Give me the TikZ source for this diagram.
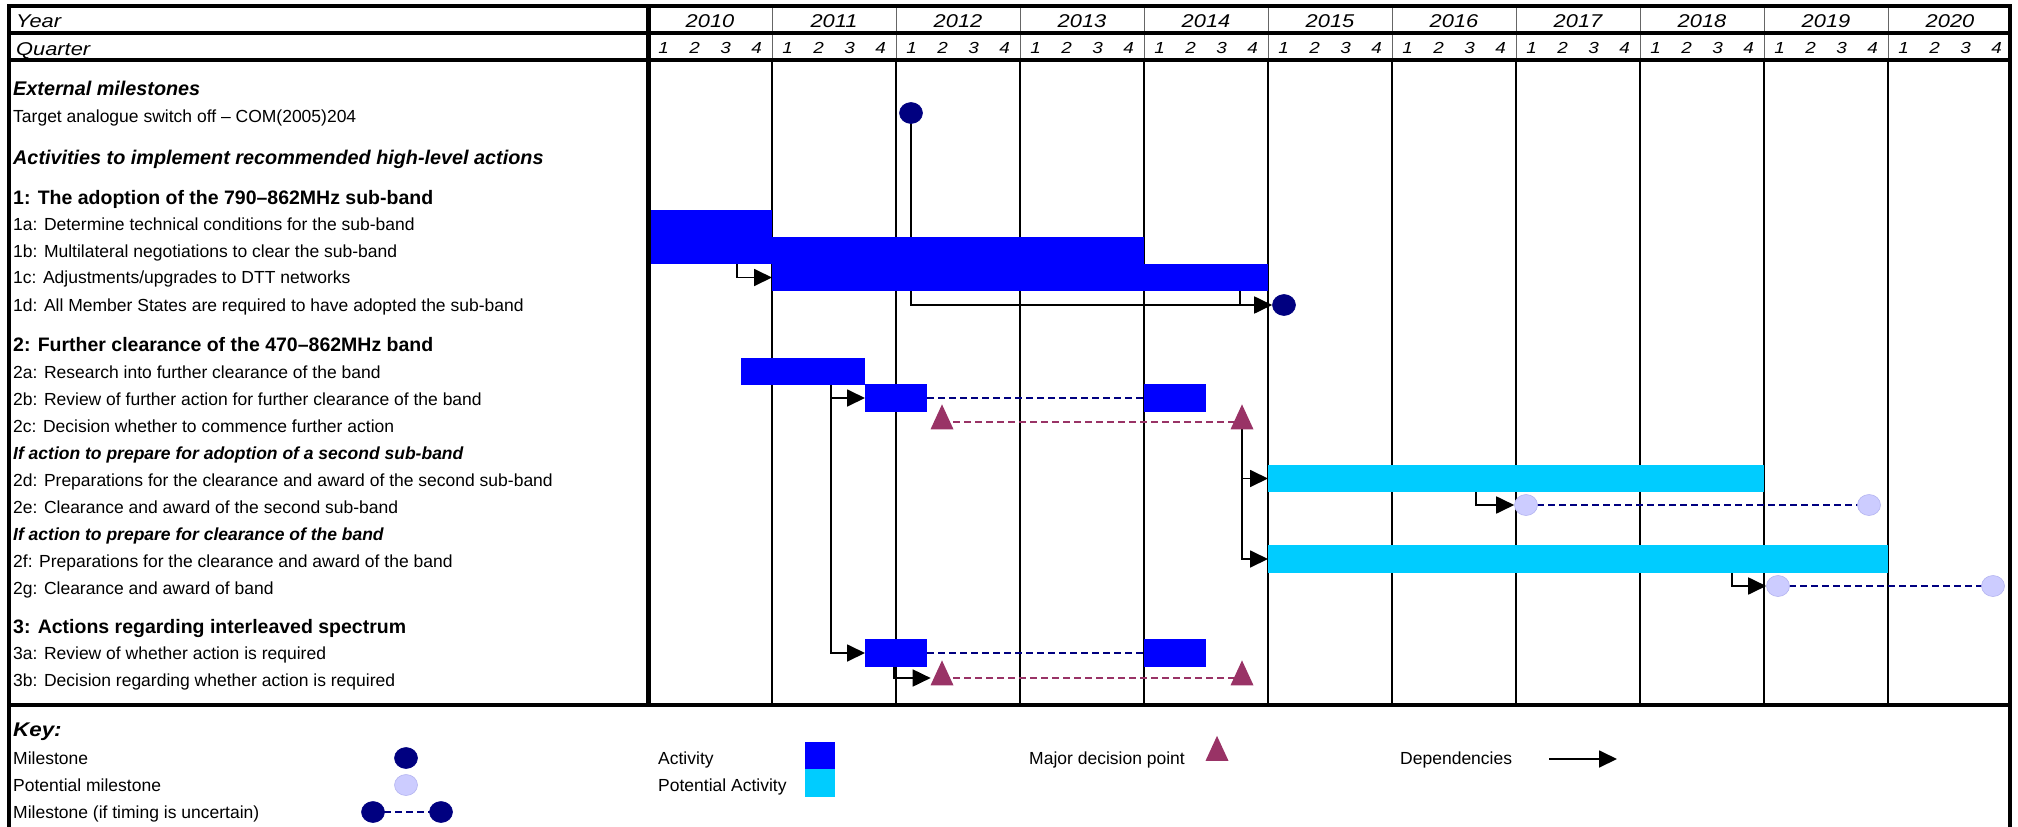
\documentclass[tikz,border=0pt]{standalone}
\usepackage{fontspec}
\setmainfont{Liberation Sans}
\newfontfamily\hdrfont[FakeStretch=1.18]{Liberation Sans}
\newfontfamily\keyfont[FakeStretch=1.13]{Liberation Sans}
\usetikzlibrary{arrows.meta,shapes.geometric}
\pgfdeclarelayer{gridlayer}
\pgfdeclarelayer{connlayer}
\pgfsetlayers{gridlayer,connlayer,main}
\definecolor{actblue}{HTML}{0000FF}
\definecolor{potcyan}{HTML}{00CCFF}
\definecolor{msnavy}{HTML}{000080}
\definecolor{potms}{HTML}{CCCCFF}
\definecolor{potmsedge}{HTML}{B4B4F0}
\definecolor{plum}{HTML}{993366}
\newcommand{\ganttbar}[6]{%
  \node[#2, minimum width={(#4)-(#3)}, minimum height={(#6)-(#5)}] (#1) at ({((#3)+(#4))/2},{((#5)+(#6))/2}) {};}
\begin{document}
\begin{tikzpicture}[x=1pt,y=-1pt,
  lbl/.style={anchor=west, inner sep=0pt, text height=12.5pt, text depth=0pt, font=\fontsize{17.5}{20}\selectfont},
  sec/.style={anchor=west, inner sep=0pt, text height=14pt, text depth=0pt, font=\fontsize{19.5}{23}\selectfont\bfseries},
  hdr/.style={anchor=west, inner sep=0pt, text height=14pt, text depth=0pt, font=\fontsize{19.8}{24}\selectfont\bfseries\itshape},
  sub/.style={anchor=west, inner sep=0pt, text height=12.5pt, text depth=0pt, font=\fontsize{17.5}{20}\selectfont\bfseries\itshape},
  hlbl/.style={anchor=west, inner sep=0pt, text height=13pt, text depth=0pt, font=\hdrfont\fontsize{18.5}{21}\selectfont\itshape},
  yrlbl/.style={inner sep=0pt, text height=13.2pt, text depth=0pt, font=\hdrfont\fontsize{18.5}{22}\selectfont\itshape},
  qlbl/.style={inner sep=0pt, text height=11.5pt, text depth=0pt, font=\hdrfont\fontsize{16}{19}\selectfont\itshape},
  act/.style={fill=actblue, inner sep=0pt, outer sep=0pt},
  pact/.style={fill=potcyan, inner sep=0pt, outer sep=0pt},
  ms/.style={ellipse, fill=msnavy, draw=msnavy, line width=0.6pt, minimum width=23pt, minimum height=21pt, inner sep=0pt},
  pms/.style={ellipse, fill=potms, draw=potmsedge, line width=0.6pt, minimum width=23pt, minimum height=21pt, inner sep=0pt},
  dec/.style={isosceles triangle, shape border rotate=90, isosceles triangle stretches, fill=plum, minimum width=23pt, minimum height=25pt, inner sep=0pt},
  dep/.style={line width=1.8pt, -{Triangle[length=18pt,width=17pt]}},
  depline/.style={line width=1.8pt},
  dashms/.style={msnavy, line width=2pt, dash pattern=on 7pt off 4pt},
  dashdec/.style={plum, line width=2pt, dash pattern=on 7pt off 4pt},
  frame/.style={line width=4pt, line join=miter},
  hdrgrid/.style={line width=0.8pt, black!60},
  bodygrid/.style={line width=1.3pt, black}
]
\useasboundingbox (0,0) rectangle (2018,827);

% ---------------- grid ----------------
\begin{pgfonlayer}{gridlayer}
\foreach \i in {1,...,10} {
  \draw[hdrgrid] ({648+124*\i},6) -- ({648+124*\i},60);
  \draw[bodygrid] ({648+124*\i},60) -- ({648+124*\i},705);
}
\end{pgfonlayer}

% ---------------- header ----------------
\node[hlbl] (hyear) at (16,21) {Year};
\node[hlbl] (hquarter) at (16,48.5) {Quarter};
\foreach \i in {0,...,10} {
  \pgfmathtruncatemacro{\yr}{2010+\i}
  \node[yrlbl] (y\yr) at ({648+124*\i+62},20.5) {\yr};
  \foreach \q in {1,...,4} {
    \node[qlbl] (q\yr-\q) at ({648+124*\i+31*\q-15.5},48) {\q};
  }
}

% ---------------- row labels ----------------
\node[hdr] (lext) at (13,88) {External milestones};
\node[lbl] (ltarget) at (13,116) {Target analogue switch off – COM(2005)204};
\node[hdr] (lact) at (13,157) {Activities to implement recommended high-level actions};
\node[sec] (ls1) at (13,197) {1: The adoption of the 790–862MHz sub-band};
\node[lbl] (l1a) at (13,224) {1a: Determine technical conditions for the sub-band};
\node[lbl] (l1b) at (13,251) {1b: Multilateral negotiations to clear the sub-band};
\node[lbl] (l1c) at (13,277.5) {1c: Adjustments/upgrades to DTT networks};
\node[lbl] (l1d) at (13,305) {1d: All Member States are required to have adopted the sub-band};
\node[sec] (ls2) at (13,344.5) {2: Further clearance of the 470–862MHz band};
\node[lbl] (l2a) at (13,372) {2a: Research into further clearance of the band};
\node[lbl] (l2b) at (13,399) {2b: Review of further action for further clearance of the band};
\node[lbl] (l2c) at (13,426) {2c: Decision whether to commence further action};
\node[sub] (lif1) at (13,453) {If action to prepare for adoption of a second sub-band};
\node[lbl] (l2d) at (13,480) {2d: Preparations for the clearance and award of the second sub-band};
\node[lbl] (l2e) at (13,507) {2e: Clearance and award of the second sub-band};
\node[sub] (lif2) at (13,534) {If action to prepare for clearance of the band};
\node[lbl] (l2f) at (13,561) {2f: Preparations for the clearance and award of the band};
\node[lbl] (l2g) at (13,588) {2g: Clearance and award of band};
\node[sec] (ls3) at (13,626) {3: Actions regarding interleaved spectrum};
\node[lbl] (l3a) at (13,653) {3a: Review of whether action is required};
\node[lbl] (l3b) at (13,680) {3b: Decision regarding whether action is required};

% ---------------- bars ----------------
\ganttbar{b1a}{act}{648}{772}{210}{237}
\ganttbar{b1b}{act}{648}{1144}{237}{264}
\ganttbar{b1c}{act}{772}{1268}{264}{291}
\ganttbar{b2a}{act}{741}{865}{358}{385}
\ganttbar{b2b1}{act}{865}{927}{384}{412}
\ganttbar{b2b2}{act}{1144}{1206}{384}{412}
\ganttbar{b2d}{pact}{1268}{1764}{465}{492}
\ganttbar{b2f}{pact}{1268}{1888}{545}{573}
\ganttbar{b3a1}{act}{865}{927}{639}{667}
\ganttbar{b3a2}{act}{1144}{1206}{639}{667}

% ---------------- milestones & decisions ----------------
\node[ms] (mT) at (911,113) {};
\node[ms] (m1d) at (1284,305) {};
\node[pms] (m2e1) at (1526,505) {};
\node[pms] (m2e2) at (1869,505) {};
\node[pms] (m2g1) at (1778,586) {};
\node[pms] (m2g2) at (1993,586) {};
\node[dec] (t2c1) at (942,422) {};
\node[dec] (t2c2) at (1242,422) {};
\node[dec] (t3b1) at (942,678) {};
\node[dec] (t3b2) at (1242,678) {};

% ---------------- dependency start points ----------------
\coordinate (c1a) at (737,264);
\coordinate (c1c) at (1240,291);
\coordinate (c2a) at (831,385);
\coordinate (c3a) at (894,667);
\coordinate (c2d) at (1476,492);
\coordinate (c2f) at (1732,573);

% ---------------- connectors ----------------
\begin{pgfonlayer}{connlayer}
\draw[dep] (c1a) |- (b1c.west);
\draw[dep] (mT.center) |- (m1d.west);
\draw[depline] (c1c) -- (c1c |- m1d.center);
\draw[dep] (c2a) |- (b2b1.west);
\draw[dep] (c2a) |- (b3a1.west);
\draw[dep] (c3a) |- ([xshift=-3pt]t3b1.west);
\draw[dep] (t2c2.center) |- (b2d.west);
\draw[dep] (t2c2.center) |- (b2f.west);
\draw[dep] (c2d) |- (m2e1.west);
\draw[dep] (c2f) |- (m2g1.west);
\draw[dashms] (b2b1.east) -- (b2b2.west);
\draw[dashms] (b3a1.east) -- (b3a2.west);
\draw[dashdec] (t2c1.center) -- (t2c2.center);
\draw[dashdec] (t3b1.center) -- (t3b2.center);
\draw[dashms] (m2e1.center) -- (m2e2.center);
\draw[dashms] (m2g1.center) -- (m2g2.center);
\end{pgfonlayer}

% ---------------- key ----------------
\node[hdr, font=\keyfont\fontsize{19.8}{24}\selectfont\bfseries\itshape] (lkey) at (13,729) {Key:};
\node[lbl] (kms) at (13,758) {Milestone};
\node[lbl] (kpms) at (13,785) {Potential milestone};
\node[lbl] (kunc) at (13,812) {Milestone (if timing is uncertain)};
\node[ms] (kmsn) at (406,758) {};
\node[pms] (kpmsn) at (406,785) {};
\node[ms] (kunc1) at (373,812) {};
\node[ms] (kunc2) at (441,812) {};
\begin{pgfonlayer}{connlayer}
\draw[dashms] (kunc1.center) -- (kunc2.center);
\end{pgfonlayer}
\node[lbl] (kact) at (658,758) {Activity};
\node[lbl] (kpact) at (658,785) {Potential Activity};
\ganttbar{kactbox}{act}{805}{835}{742}{769}
\ganttbar{kpactbox}{pact}{805}{835}{769}{797}
\node[lbl] (kdec) at (1029,758) {Major decision point};
\node[dec] (kdecn) at (1217,753.5) {};
\node[lbl] (kdep) at (1400,758) {Dependencies};
\coordinate (kdep1) at (1549,759);
\coordinate (kdep2) at (1617,759);
\draw[dep] (kdep1) -- (kdep2);

% ---------------- frame ----------------
\draw[frame] (9,827) -- (9,6) -- (2010,6) -- (2010,827);
\draw[frame] (9,33) -- (2010,33);
\draw[frame] (9,60) -- (2010,60);
\draw[frame] (9,705) -- (2010,705);
\draw[line width=5pt] (648,6) -- (648,705);
\end{tikzpicture}
\end{document}
